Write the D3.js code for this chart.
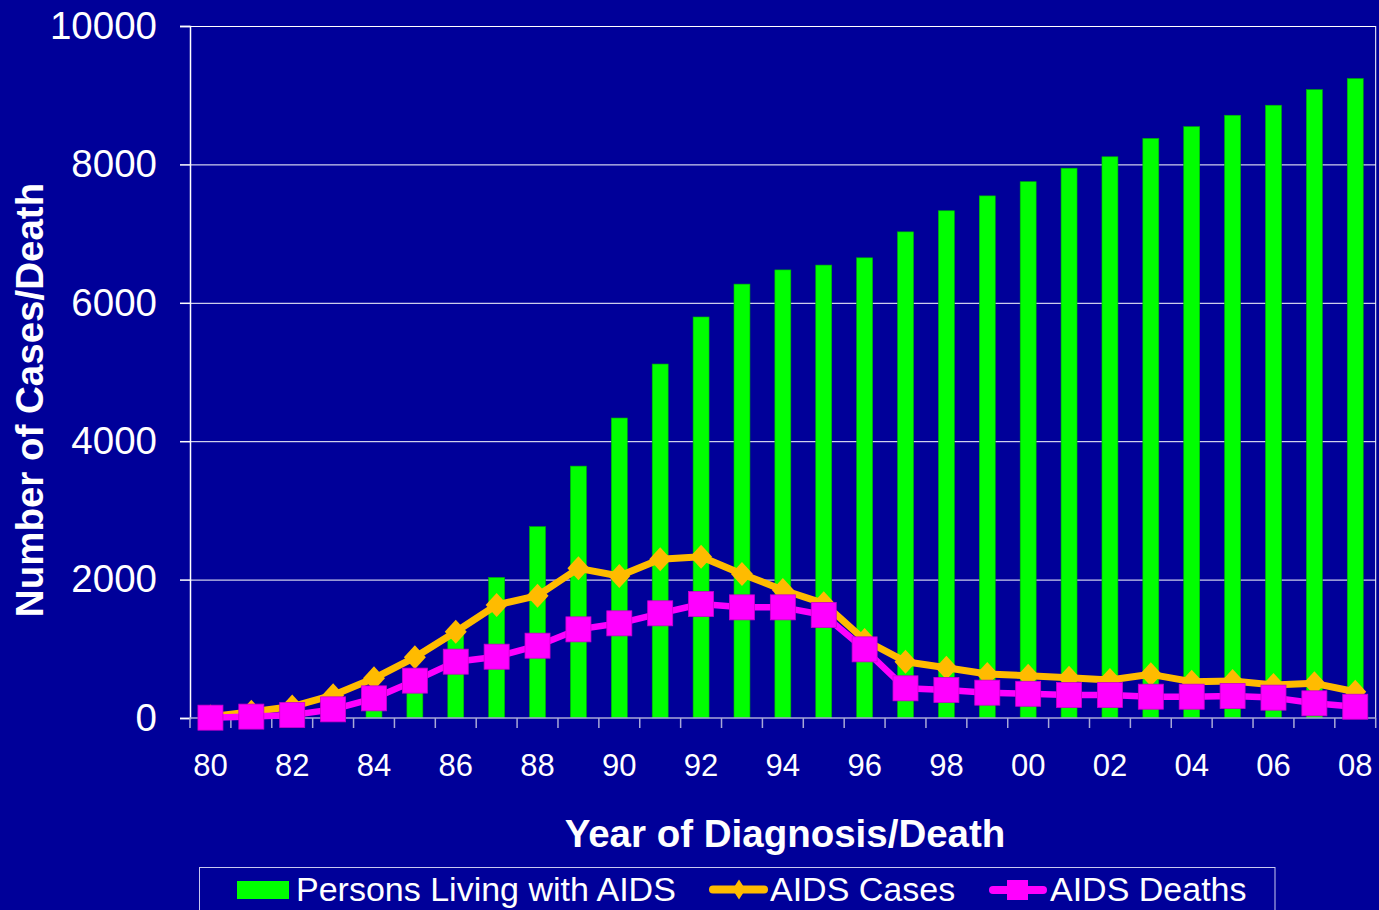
<!DOCTYPE html>
<html>
<head>
<meta charset="utf-8">
<script src="https://d3js.org/d3.v7.min.js"></script>
<style>
  body { margin: 0; background: #000099; }
  svg { display: block; }
</style>
</head>
<body>
<div id="chart"></div>
<script>
// data
const years = ["80","81","82","83","84","85","86","87","88","89","90","91","92","93","94",
               "95","96","97","98","99","00","01","02","03","04","05","06","07","08"];
const living = [10, 30, 80, 200, 400, 700, 1200, 2030, 2765, 3640, 4335, 5115, 5795, 6270, 6475,
                6545, 6650, 7025, 7330, 7545, 7750, 7945, 8110, 8375, 8545, 8710, 8855, 9080, 9240];
const cases = [20, 90, 165, 330, 573, 877, 1247, 1633, 1768, 2163, 2052, 2293, 2331, 2081, 1850,
               1657, 1127, 814, 727, 636, 610, 583, 549, 631, 525, 535, 477, 501, 380];
const deaths = [5, 20, 43, 125, 284, 540, 814, 886, 1045, 1281, 1368, 1513, 1647, 1599, 1599,
                1488, 992, 429, 405, 366, 350, 332, 332, 308, 308, 318, 294, 212, 163];
const yTicks = [0, 2000, 4000, 6000, 8000, 10000];
const xLabels = years.filter((d, i) => i % 2 === 0);
const legendNames = ["Persons Living with AIDS", "AIDS Cases", "AIDS Deaths"];

const font = "'Liberation Sans', Arial, sans-serif";

// set the dimensions and margins of the graph
const W = 1379, H = 910;
const margin = {top: 26, right: 3.3, bottom: 192, left: 190},
    width = W - margin.left - margin.right,
    height = H - margin.top - margin.bottom;

const svg = d3.select("#chart")
  .append("svg")
    .attr("width", W)
    .attr("height", H)
    .style("font-family", font);

svg.append("rect").attr("width", W).attr("height", H).attr("fill", "#000099");

const g = svg.append("g")
    .attr("transform", `translate(${margin.left},${margin.top})`);

const x = d3.scaleBand().domain(years).range([0, width]).padding(0);
const y = d3.scaleLinear().domain([0, 10000]).range([height, 0]);
const cx = d => x(d) + x.bandwidth() / 2;

// gridlines
g.append("g")
    .call(d3.axisLeft(y).tickValues(yTicks.slice(1)).tickSize(-width).tickFormat(""))
    .call(s => s.select(".domain").remove())
    .selectAll("line").attr("stroke", "#ffffff").attr("stroke-width", 1);

// right border
g.append("line")
    .attr("x1", width).attr("x2", width).attr("y1", 0).attr("y2", height)
    .attr("stroke", "#ffffff");

// Y axis
const yAxis = g.append("g")
    .call(d3.axisLeft(y).tickValues(yTicks).tickSize(10).tickPadding(23).tickFormat(d3.format("d")));
yAxis.select(".domain").attr("stroke", "#ffffff").attr("stroke-width", 1.5);
yAxis.selectAll("line").attr("stroke", "#ffffff").attr("stroke-width", 1.5);
yAxis.selectAll("text").attr("fill", "#ffffff").style("font-size", "38.5px").style("font-family", font);

// bars
const barW = x.bandwidth() * 0.39;
g.selectAll(".bar")
  .data(living)
  .join("rect")
    .attr("class", "bar")
    .attr("x", (d, i) => cx(years[i]) - barW / 2)
    .attr("y", d => y(d))
    .attr("width", barW)
    .attr("height", d => height - y(d))
    .attr("fill", "#00ff00")
    .attr("stroke", "#00b400")
    .attr("stroke-width", 0.6);

// X axis line + boundary ticks
g.append("line")
    .attr("x1", 0).attr("x2", width).attr("y1", height).attr("y2", height)
    .attr("stroke", "#a8a8d8").attr("stroke-width", 1.5);
g.selectAll(".xtick")
  .data(years.map(d => x(d)).concat([width]))
  .join("line")
    .attr("class", "xtick")
    .attr("x1", d => d).attr("x2", d => d)
    .attr("y1", height).attr("y2", height + 10)
    .attr("stroke", "#a8a8d8").attr("stroke-width", 1.5);

const xAxis = g.append("g")
    .attr("transform", `translate(0,${height})`)
    .call(d3.axisBottom(x).tickValues(xLabels).tickSize(0).tickPadding(36));
xAxis.select(".domain").remove();
xAxis.selectAll("text").attr("fill", "#ffffff").style("font-size", "31px").style("font-family", font);

// lines
const line = d3.line().x((d, i) => cx(years[i])).y(d => y(d));
const diamond = "M0,-12L11,0L0,12L-11,0Z";

g.append("path")
    .datum(cases)
    .attr("d", line)
    .attr("fill", "none")
    .attr("stroke", "#ffbb00")
    .attr("stroke-width", 7)
    .attr("stroke-linejoin", "round");
g.selectAll(".dia")
  .data(cases)
  .join("path")
    .attr("class", "dia")
    .attr("transform", (d, i) => `translate(${cx(years[i])},${y(d)})`)
    .attr("d", diamond)
    .attr("fill", "#ffbb00");

g.append("path")
    .datum(deaths)
    .attr("d", line)
    .attr("fill", "none")
    .attr("stroke", "#ff00ff")
    .attr("stroke-width", 6.5)
    .attr("stroke-linejoin", "round");
g.selectAll(".sq")
  .data(deaths)
  .join("rect")
    .attr("class", "sq")
    .attr("x", (d, i) => cx(years[i]) - 12.5)
    .attr("y", d => y(d) - 12.5)
    .attr("width", 25)
    .attr("height", 25)
    .attr("fill", "#ff00ff")
    .attr("stroke", "#cc00cc")
    .attr("stroke-width", 0.8);

// axis titles
svg.append("text")
    .attr("transform", "translate(43,400) rotate(-90)")
    .attr("text-anchor", "middle")
    .attr("fill", "#ffffff")
    .style("font-size", "38.5px")
    .style("font-weight", "bold")
    .text("Number of Cases/Death");

svg.append("text")
    .attr("x", 785).attr("y", 846.5)
    .attr("text-anchor", "middle")
    .attr("fill", "#ffffff")
    .style("font-size", "38.5px")
    .style("font-weight", "bold")
    .text("Year of Diagnosis/Death");

// Handmade legend
svg.append("rect").attr("x", 199.5).attr("y", 867.5).attr("width", 1075.5).attr("height", 60)
    .attr("fill", "none").attr("stroke", "#c8c8f0").attr("stroke-width", 1);

svg.append("rect").attr("x", 237).attr("y", 881).attr("width", 52).attr("height", 18).attr("fill", "#00ff00");

svg.append("line").attr("x1", 713).attr("x2", 764).attr("y1", 889.5).attr("y2", 889.5)
    .attr("stroke", "#ffbb00").attr("stroke-width", 8).attr("stroke-linecap", "round");
svg.append("path").attr("transform", "translate(739,889.5)")
    .attr("d", "M0,-10L6.5,0L0,10L-6.5,0Z").attr("fill", "#ffbb00");

svg.append("line").attr("x1", 993).attr("x2", 1043).attr("y1", 890).attr("y2", 890)
    .attr("stroke", "#ff00ff").attr("stroke-width", 8).attr("stroke-linecap", "round");
svg.append("rect").attr("x", 1007).attr("y", 880).attr("width", 21).attr("height", 20).attr("fill", "#ff00ff");

const legendX = [296, 770, 1050];
legendNames.forEach((t, i) => {
  svg.append("text")
      .attr("x", legendX[i]).attr("y", 901)
      .attr("fill", "#ffffff")
      .style("font-size", "34px")
      .text(t);
});
</script>
</body>
</html>
